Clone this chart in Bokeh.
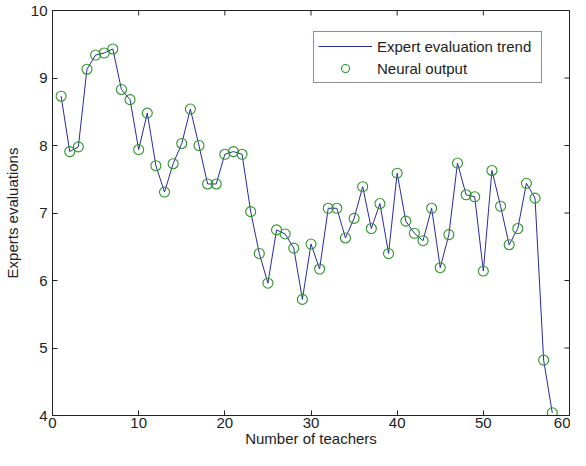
from bokeh.plotting import figure
from bokeh.models import (ColumnDataSource, LinearAxis, FixedTicker, Range1d,
                          Legend, LegendItem)
from bokeh.embed import file_html
from bokeh.resources import INLINE

teachers = list(range(1, 59))
evaluations = [8.73, 7.91, 7.98, 9.13, 9.34, 9.37, 9.43, 8.83, 8.68, 7.94,
               8.48, 7.70, 7.31, 7.73, 8.03, 8.54, 8.00, 7.43, 7.43, 7.87,
               7.91, 7.87, 7.02, 6.40, 5.96, 6.75, 6.69, 6.48, 5.72, 6.54,
               6.17, 7.07, 7.07, 6.63, 6.92, 7.39, 6.77, 7.14, 6.40, 7.59,
               6.88, 6.70, 6.59, 7.07, 6.19, 6.68, 7.74, 7.27, 7.24, 6.14,
               7.63, 7.10, 6.53, 6.77, 7.44, 7.22, 4.82, 4.04]
x_ticks = [0, 10, 20, 30, 40, 50, 60]
y_ticks = [4, 5, 6, 7, 8, 9, 10]

FONT = "Liberation Sans"
FS = "15px"
INK = "#222222"

src = ColumnDataSource(data=dict(x=teachers, y=evaluations))

p = figure(width=570, height=450, output_backend="svg", toolbar_location=None,
           x_range=Range1d(x_ticks[0], x_ticks[-1]),
           y_range=Range1d(y_ticks[0], y_ticks[-1]),
           min_border_left=51, min_border_right=1, min_border_top=10,
           min_border_bottom=35, x_axis_location=None, y_axis_location=None)
p.background_fill_color = "white"
p.border_fill_color = "white"
p.outline_line_color = INK
p.outline_line_width = 1
p.xgrid.visible = False
p.ygrid.visible = False

def style_axis(ax):
    ax.axis_line_color = INK
    ax.major_tick_in = 5
    ax.major_tick_out = 0
    ax.minor_tick_line_color = None
    ax.major_tick_line_color = INK
    ax.major_label_text_font = FONT
    ax.major_label_text_color = INK
    ax.major_label_text_font_size = FS
    ax.axis_label_text_font = FONT
    ax.axis_label_text_font_size = FS
    ax.axis_label_text_font_style = "normal"
    ax.axis_label_text_color = INK

xb = LinearAxis(ticker=FixedTicker(ticks=x_ticks), axis_label="Number of teachers")
style_axis(xb)
xb.major_label_standoff = 2
xb.axis_label_standoff = -1
p.add_layout(xb, "below")

yl = LinearAxis(ticker=FixedTicker(ticks=y_ticks), axis_label="Experts evaluations")
style_axis(yl)
yl.major_label_standoff = 5
yl.axis_label_standoff = 7
p.add_layout(yl, "left")

# mirrored inward ticks on the top and right edges (MATLAB box style)
p.ray(x=x_ticks, y=y_ticks[-1], length=5, length_units="screen",
      angle=-90, angle_units="deg", line_color=INK, line_width=1)
p.ray(x=x_ticks[-1], y=y_ticks, length=5, length_units="screen",
      angle=180, angle_units="deg", line_color=INK, line_width=1)

ln = p.line("x", "y", source=src, line_color="#2a2a9a", line_width=1)
cr = p.scatter("x", "y", source=src, marker="circle", size=10,
               fill_color=None, line_color="#2a952a", line_width=1.1)

legend = Legend(items=[LegendItem(label="Expert evaluation trend", renderers=[ln]),
                       LegendItem(label="Neural output", renderers=[cr])],
                location=(261, 332))
legend.margin = 0
legend.padding = 4
legend.spacing = 2
legend.glyph_width = 54
legend.glyph_height = 20
legend.label_height = 20
legend.label_width = 160
legend.label_standoff = 5
legend.label_text_font = FONT
legend.label_text_font_size = FS
legend.label_text_color = INK
legend.border_line_color = INK
legend.border_line_width = 1
legend.background_fill_color = "white"
legend.background_fill_alpha = 1
p.add_layout(legend, "center")

open("out.html", "w").write(file_html(p, INLINE))
